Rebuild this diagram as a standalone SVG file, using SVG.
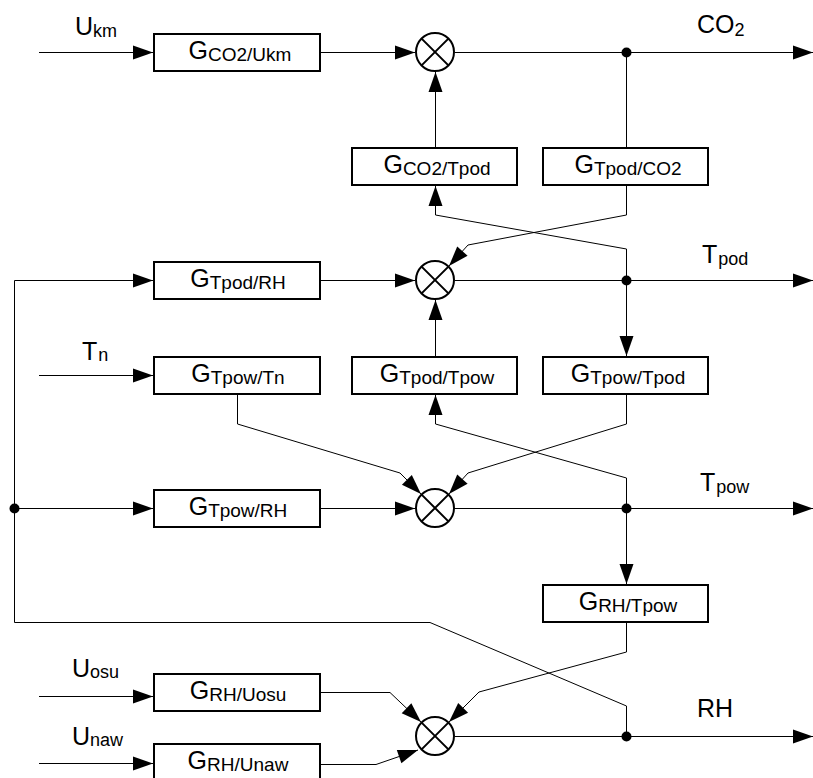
<svg xmlns="http://www.w3.org/2000/svg" width="813" height="778" viewBox="0 0 813 778">
<style>
.box{fill:#fff;stroke:#000;stroke-width:2}
.ln{fill:none;stroke:#000;stroke-width:1}
.sum{fill:#fff;stroke:#000;stroke-width:2}
.x{stroke:#000;stroke-width:2}
.dot{fill:#000}
text{font-family:"Liberation Sans",Arial,sans-serif;fill:#000}
.g{font-size:25px;text-anchor:middle}
.gs{font-size:19px}
.lbl{font-size:25px}
.ls{font-size:18px}
</style>
<defs>
<marker id="arr" markerUnits="userSpaceOnUse" markerWidth="20" markerHeight="14" refX="20" refY="7" orient="auto" overflow="visible">
<path d="M0,0 L20,7 L0,14 z" fill="#000"/>
</marker>
</defs>
<rect width="813" height="778" fill="#fff"/>

<g id="connectors" class="ln">
<!-- CO2 row -->
<line x1="39" y1="52.5" x2="153" y2="52.5" marker-end="url(#arr)"/>
<line x1="320" y1="52.5" x2="415" y2="52.5" marker-end="url(#arr)"/>
<line x1="455" y1="52.5" x2="813" y2="52.5" marker-end="url(#arr)"/>
<line x1="626.5" y1="52" x2="626.5" y2="147"/>
<line x1="435.5" y1="147" x2="435.5" y2="72" marker-end="url(#arr)"/>
<polyline points="626.5,280 626.5,249 435.5,215 435.5,186" marker-end="url(#arr)"/>
<polyline points="626.5,185 626.5,215 468,245 449,266" marker-end="url(#arr)"/>
<!-- Tpod row -->
<polyline points="626.5,736 626.5,706 430,622.5 14.5,622.5 14.5,280.5 153,280.5" marker-end="url(#arr)"/>
<line x1="320" y1="280.5" x2="415" y2="280.5" marker-end="url(#arr)"/>
<line x1="455" y1="280.5" x2="813" y2="280.5" marker-end="url(#arr)"/>
<line x1="626.5" y1="280" x2="626.5" y2="356" marker-end="url(#arr)"/>
<line x1="435.5" y1="356" x2="435.5" y2="300" marker-end="url(#arr)"/>
<line x1="39" y1="375.5" x2="153" y2="375.5" marker-end="url(#arr)"/>
<polyline points="237.5,394 237.5,424 400,473 421,494" marker-end="url(#arr)"/>
<polyline points="626.5,394 626.5,424 468,473 449,494" marker-end="url(#arr)"/>
<polyline points="626.5,508 626.5,478 435.5,424 435.5,395" marker-end="url(#arr)"/>
<!-- Tpow row -->
<line x1="14.5" y1="508.5" x2="153" y2="508.5" marker-end="url(#arr)"/>
<line x1="320" y1="508.5" x2="415" y2="508.5" marker-end="url(#arr)"/>
<line x1="455" y1="508.5" x2="813" y2="508.5" marker-end="url(#arr)"/>
<line x1="626.5" y1="508" x2="626.5" y2="584" marker-end="url(#arr)"/>
<polyline points="626.5,622 626.5,652 479,692 449,722" marker-end="url(#arr)"/>
<!-- RH row -->
<line x1="39" y1="696.5" x2="153" y2="696.5" marker-end="url(#arr)"/>
<polyline points="320,692.5 390,692.5 421,722" marker-end="url(#arr)"/>
<line x1="39" y1="763.5" x2="153" y2="763.5" marker-end="url(#arr)"/>
<polyline points="320,764.5 376,764.5 418,750" marker-end="url(#arr)"/>
<line x1="455" y1="736.5" x2="813" y2="736.5" marker-end="url(#arr)"/>
</g>

<g id="dots" class="dot">
<circle cx="626.5" cy="52.5" r="5"/>
<circle cx="626.5" cy="280.5" r="5"/>
<circle cx="626.5" cy="508.5" r="5"/>
<circle cx="626.5" cy="736.5" r="5"/>
<circle cx="14.5" cy="508.5" r="5"/>
</g>

<g id="sum_co2"><circle class="sum" cx="435" cy="52" r="19"/><path class="x" d="M421.6,38.6 L448.4,65.4 M448.4,38.6 L421.6,65.4"/></g>
<g id="sum_tpod"><circle class="sum" cx="435" cy="280" r="19"/><path class="x" d="M421.6,266.6 L448.4,293.4 M448.4,266.6 L421.6,293.4"/></g>
<g id="sum_tpow"><circle class="sum" cx="435" cy="508" r="19"/><path class="x" d="M421.6,494.6 L448.4,521.4 M448.4,494.6 L421.6,521.4"/></g>
<g id="sum_rh"><circle class="sum" cx="435" cy="736" r="19"/><path class="x" d="M421.6,722.6 L448.4,749.4 M448.4,722.6 L421.6,749.4"/></g>

<g id="G_CO2_Ukm"><rect class="box" x="154" y="34" width="166" height="37"/><text class="g" x="240" y="59">G<tspan class="gs" dy="2">CO2/Ukm</tspan></text></g>
<g id="G_CO2_Tpod"><rect class="box" x="352" y="148" width="165" height="37"/><text class="g" x="437" y="173">G<tspan class="gs" dy="2">CO2/Tpod</tspan></text></g>
<g id="G_Tpod_CO2"><rect class="box" x="543" y="148" width="165" height="37"/><text class="g" x="628" y="173">G<tspan class="gs" dy="2">Tpod/CO2</tspan></text></g>
<g id="G_Tpod_RH"><rect class="box" x="154" y="262" width="166" height="37"/><text class="g" x="238" y="287">G<tspan class="gs" dy="2">Tpod/RH</tspan></text></g>
<g id="G_Tpow_Tn"><rect class="box" x="154" y="357" width="166" height="37"/><text class="g" x="238" y="382">G<tspan class="gs" dy="2">Tpow/Tn</tspan></text></g>
<g id="G_Tpod_Tpow"><rect class="box" x="352" y="357" width="165" height="37"/><text class="g" x="437" y="382">G<tspan class="gs" dy="2">Tpod/Tpow</tspan></text></g>
<g id="G_Tpow_Tpod"><rect class="box" x="543" y="357" width="165" height="37"/><text class="g" x="628" y="382">G<tspan class="gs" dy="2">Tpow/Tpod</tspan></text></g>
<g id="G_Tpow_RH"><rect class="box" x="154" y="490" width="166" height="37"/><text class="g" x="238" y="515">G<tspan class="gs" dy="2">Tpow/RH</tspan></text></g>
<g id="G_RH_Tpow"><rect class="box" x="543" y="585" width="165" height="37"/><text class="g" x="628" y="610">G<tspan class="gs" dy="2">RH/Tpow</tspan></text></g>
<g id="G_RH_Uosu"><rect class="box" x="154" y="674" width="166" height="37"/><text class="g" x="238" y="699">G<tspan class="gs" dy="2">RH/Uosu</tspan></text></g>
<g id="G_RH_Unaw"><rect class="box" x="154" y="744" width="166" height="40"/><text class="g" x="238" y="769">G<tspan class="gs" dy="2">RH/Unaw</tspan></text></g>

<g id="labels">
<text class="lbl" x="75" y="35">U<tspan class="ls" dy="2">km</tspan></text>
<text class="lbl" x="697" y="33">CO<tspan class="ls" dy="3">2</tspan></text>
<text class="lbl" x="702" y="263">T<tspan class="ls" dy="2" dx="1">pod</tspan></text>
<text class="lbl" x="82" y="360">T<tspan class="ls" dy="1" dx="1">n</tspan></text>
<text class="lbl" x="700" y="491">T<tspan class="ls" dy="2" dx="1">pow</tspan></text>
<text class="lbl" x="697" y="717">RH</text>
<text class="lbl" x="72" y="677">U<tspan class="ls" dy="1">osu</tspan></text>
<text class="lbl" x="72" y="745">U<tspan class="ls" dy="1">naw</tspan></text>
</g>
</svg>
